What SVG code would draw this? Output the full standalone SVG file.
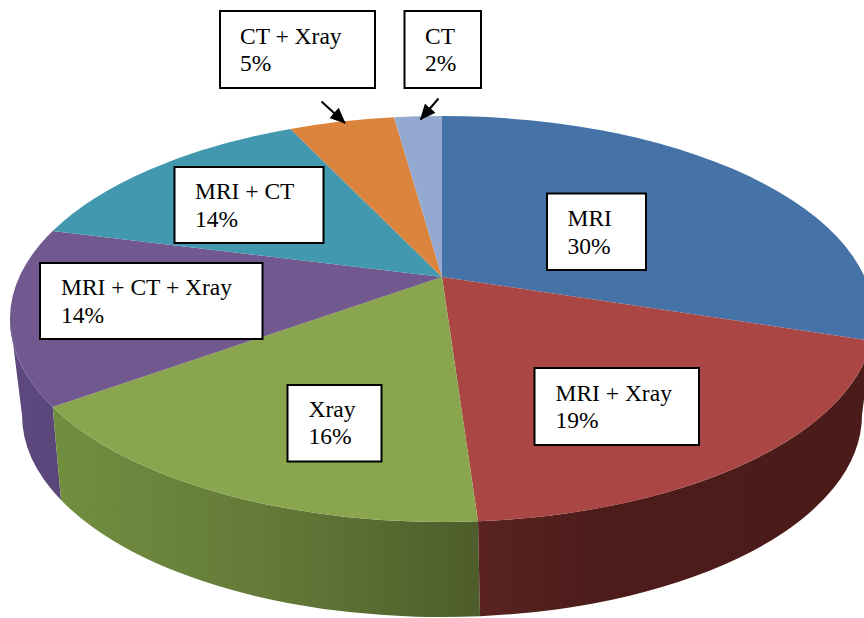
<svg xmlns="http://www.w3.org/2000/svg" width="864" height="618" viewBox="0 0 864 618">
<style>
.box{fill:#ffffff;stroke:#000000;stroke-width:2}
.lbl{font-family:'Liberation Serif','Times New Roman',Times,'DejaVu Serif','Noto Serif',serif;font-size:23.5px;fill:#000000}
.arr{stroke:#000000;stroke-width:2;fill:none;marker-end:url(#ah)}
</style>
<defs>
<marker id="ah" markerUnits="userSpaceOnUse" markerWidth="16" markerHeight="14" refX="15" refY="7" orient="auto">
<path d="M0,0 L16,7 L0,14 Z" fill="#000000"/>
</marker>
<linearGradient id="gSide" gradientUnits="userSpaceOnUse" x1="52" y1="0" x2="478" y2="0">
<stop offset="0" stop-color="#728f40"/>
<stop offset="0.5" stop-color="#637a38"/>
<stop offset="1" stop-color="#4e5d2b"/>
</linearGradient>
<linearGradient id="rSide" gradientUnits="userSpaceOnUse" x1="478" y1="0" x2="874" y2="0">
<stop offset="0" stop-color="#5a2321"/>
<stop offset="0.3" stop-color="#4c1c1a"/>
<stop offset="1" stop-color="#4a1b19"/>
</linearGradient>
<linearGradient id="pSide" gradientUnits="userSpaceOnUse" x1="10" y1="0" x2="62" y2="0">
<stop offset="0" stop-color="#5f4a80"/>
<stop offset="1" stop-color="#5a4679"/>
</linearGradient>
</defs>

<g id="pie-sides">
<path d="M10,319 A432,203 0 0 0 52.7,407 L61,500 A420,202 0 0 1 22,415 Z" fill="url(#pSide)"/>
<path d="M52.7,407 A432,203 0 0 0 478,521.3 L480,616.2 A420,202 0 0 1 61,500 Z" fill="url(#gSide)"/>
<path d="M478,521.3 A432,203 0 0 0 874,319 L862,415 A420,202 0 0 1 480,616.2 Z" fill="url(#rSide)"/>
</g>

<g id="slice-mri">
<path d="M442,277 L442,116 A432,203 0 0 1 871.5,340.8 Z" fill="#4572a7"/>
</g>
<g id="slice-mri-xray">
<path d="M442,277 L871.5,340.8 A432,203 0 0 1 478,521.3 Z" fill="#aa4643"/>
</g>
<g id="slice-xray">
<path d="M442,277 L478,521.3 A432,203 0 0 1 52.7,407 Z" fill="#89a54e"/>
</g>
<g id="slice-mri-ct-xray">
<path d="M442,277 L52.7,407 A432,203 0 0 1 52.6,231 Z" fill="#71588f"/>
</g>
<g id="slice-mri-ct">
<path d="M442,277 L52.6,231 A432,203 0 0 1 290.4,128.9 Z" fill="#4198af"/>
</g>
<g id="slice-ct-xray">
<path d="M442,277 L290.4,128.9 A432,203 0 0 1 394,117.3 Z" fill="#db843d"/>
</g>
<g id="slice-ct">
<path d="M442,277 L394,117.3 A432,203 0 0 1 442,116 Z" fill="#93a9cf"/>
</g>

<g id="connectors">
<line class="arr" x1="321.5" y1="101.5" x2="345" y2="123"/>
<line class="arr" x1="438.5" y1="98.5" x2="420.5" y2="119.5"/>
</g>

<g id="label-ct-xray">
<rect class="box" x="220" y="11" width="155" height="77"/>
<text class="lbl" font-family="Liberation Serif, Times New Roman, DejaVu Serif, serif" x="240" y="44">CT + Xray</text>
<text class="lbl" font-family="Liberation Serif, Times New Roman, DejaVu Serif, serif" x="240" y="71">5%</text>
</g>
<g id="label-ct">
<rect class="box" x="404.5" y="11" width="76.5" height="77"/>
<text class="lbl" font-family="Liberation Serif, Times New Roman, DejaVu Serif, serif" x="425" y="44">CT</text>
<text class="lbl" font-family="Liberation Serif, Times New Roman, DejaVu Serif, serif" x="425" y="71">2%</text>
</g>
<g id="label-mri-ct">
<rect class="box" x="174.5" y="167" width="149" height="76"/>
<text class="lbl" font-family="Liberation Serif, Times New Roman, DejaVu Serif, serif" x="195" y="199">MRI + CT</text>
<text class="lbl" font-family="Liberation Serif, Times New Roman, DejaVu Serif, serif" x="195" y="227">14%</text>
</g>
<g id="label-mri-ct-xray">
<rect class="box" x="40" y="263" width="222.5" height="76"/>
<text class="lbl" font-family="Liberation Serif, Times New Roman, DejaVu Serif, serif" x="61" y="295">MRI + CT + Xray</text>
<text class="lbl" font-family="Liberation Serif, Times New Roman, DejaVu Serif, serif" x="61" y="322.5">14%</text>
</g>
<g id="label-mri">
<rect class="box" x="547" y="193.5" width="99" height="76.5"/>
<text class="lbl" font-family="Liberation Serif, Times New Roman, DejaVu Serif, serif" x="567.5" y="226">MRI</text>
<text class="lbl" font-family="Liberation Serif, Times New Roman, DejaVu Serif, serif" x="567.5" y="254">30%</text>
</g>
<g id="label-mri-xray">
<rect class="box" x="534.5" y="368" width="164.5" height="77"/>
<text class="lbl" font-family="Liberation Serif, Times New Roman, DejaVu Serif, serif" x="555.5" y="400.5">MRI + Xray</text>
<text class="lbl" font-family="Liberation Serif, Times New Roman, DejaVu Serif, serif" x="555.5" y="427.5">19%</text>
</g>
<g id="label-xray">
<rect class="box" x="287.5" y="385" width="94" height="76.5"/>
<text class="lbl" font-family="Liberation Serif, Times New Roman, DejaVu Serif, serif" x="308.5" y="417">Xray</text>
<text class="lbl" font-family="Liberation Serif, Times New Roman, DejaVu Serif, serif" x="308.5" y="444">16%</text>
</g>
</svg>
